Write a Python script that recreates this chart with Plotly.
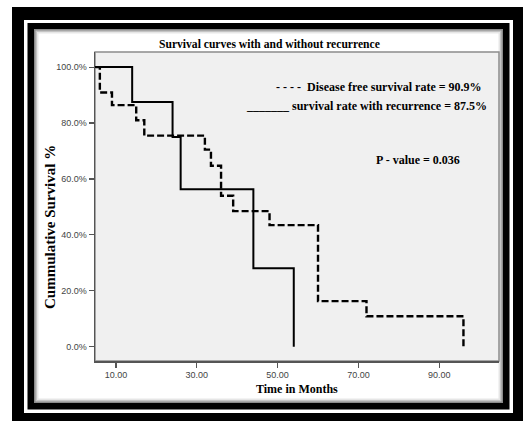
import plotly.graph_objects as go

# ---- data ----
recur_time = [0, 14, 24, 26, 44, 54]
recur_surv = [100, 87.5, 75.0, 56.3, 28.1, 0]

dfs_time = [0, 6, 9, 15, 17, 32, 33.5, 36, 39, 48, 60, 72, 96]
dfs_surv = [100, 90.9, 86.4, 81.0, 75.5, 70.5, 64.7, 54.0, 48.5, 43.5, 16.3, 10.9, 0]

x_ticks = [10, 30, 50, 70, 90]
x_ticktext = ["10.00", "30.00", "50.00", "70.00", "90.00"]
y_ticks = [0, 20, 40, 60, 80, 100]
y_ticktext = ["0.0%", "20.0%", "40.0%", "60.0%", "80.0%", "100.0%"]

W, H = 523, 421
L, R, T, B = 95, 499, 52, 361


def xp(px):
    return (px - L) / (R - L)


def yp(py):
    return (B - py) / (B - T)


fig = go.Figure()
fig.add_trace(go.Scatter(x=dfs_time, y=dfs_surv, mode="lines", line_shape="hv",
                         line=dict(color="black", width=2.4, dash="7px,3px"),
                         showlegend=False, hoverinfo="skip"))
fig.add_trace(go.Scatter(x=recur_time, y=recur_surv, mode="lines", line_shape="hv",
                         line=dict(color="black", width=2),
                         showlegend=False, hoverinfo="skip"))


def rect(x0, y0, x1, y1, fill, line_color=None, line_width=0):
    return dict(type="rect", xref="paper", yref="paper", layer="below",
                x0=xp(x0), x1=xp(x1), y0=yp(y0), y1=yp(y1),
                fillcolor=fill,
                line=dict(color=line_color or fill, width=line_width))


shapes = [
    rect(12, 7, 530, 430, "black"),
    rect(24, 20, 513, 413, "white"),
    rect(27.5, 23, 509.5, 409.5, "black"),
    rect(34, 29, 503, 403, "#8a8a8a"),
    rect(35.5, 30.5, 501.5, 401.5, "#c4c4c4"),
    rect(37, 32, 500, 400, "#e6e6e6"),
    rect(38.5, 33.5, 498.5, 398.5, "white"),
    rect(L, T, R, B, "#f0f0f0", "#8c8c8c", 1.5),
]

serif = "Liberation Serif"
annos = [
    dict(text="<b>Survival curves with and without recurrence</b>", x=xp(269), y=yp(44),
         font=dict(family=serif, size=11.6, color="black")),
    dict(text="<b>Time in Months</b>", x=xp(297), y=yp(389),
         font=dict(family=serif, size=12, color="black")),
    dict(text="<b>Cummulative Survival %</b>", x=xp(50), y=yp(227), textangle=-90,
         font=dict(family=serif, size=15, color="black")),
    dict(text="<b>- - - -  Disease free survival rate = 90.9%</b>", x=xp(484), y=yp(87),
         xanchor="right", font=dict(family=serif, size=12, color="black")),
    dict(text="<b>_______ survival rate with recurrence = 87.5%</b>", x=xp(489), y=yp(106),
         xanchor="right", font=dict(family=serif, size=12, color="black")),
    dict(text="<b>P - value = 0.036</b>", x=xp(418), y=yp(160),
         font=dict(family=serif, size=12, color="black")),
]
for a in annos:
    a.setdefault("xanchor", "center")
    a.update(xref="paper", yref="paper", yanchor="middle", showarrow=False)

axis_font = dict(family="Liberation Sans", size=9, color="#444444")
fig.update_layout(
    width=W, height=H,
    margin=dict(l=L, r=W - R, t=T, b=H - B, pad=0),
    paper_bgcolor="white",
    plot_bgcolor="rgba(0,0,0,0)",
    shapes=shapes,
    annotations=annos,
    xaxis=dict(range=[4.8, 104.8], tickvals=x_ticks, ticktext=x_ticktext,
               showgrid=False, zeroline=False, showline=True, linecolor="#555555",
               linewidth=1.5, ticks="outside", ticklen=5, tickwidth=1.2,
               tickcolor="#555555", tickfont=axis_font),
    yaxis=dict(range=[-5.1, 105.4], tickvals=y_ticks, ticktext=y_ticktext,
               showgrid=False, zeroline=False, showline=True, linecolor="#555555",
               linewidth=1.5, ticks="outside", ticklen=5, tickwidth=1.2,
               tickcolor="#555555", tickfont=axis_font),
)

fig.write_html("out.html",
               config={"displayModeBar": False, "staticPlot": True},
               post_script="document.body.style.margin='0';document.body.style.overflow='hidden';")
